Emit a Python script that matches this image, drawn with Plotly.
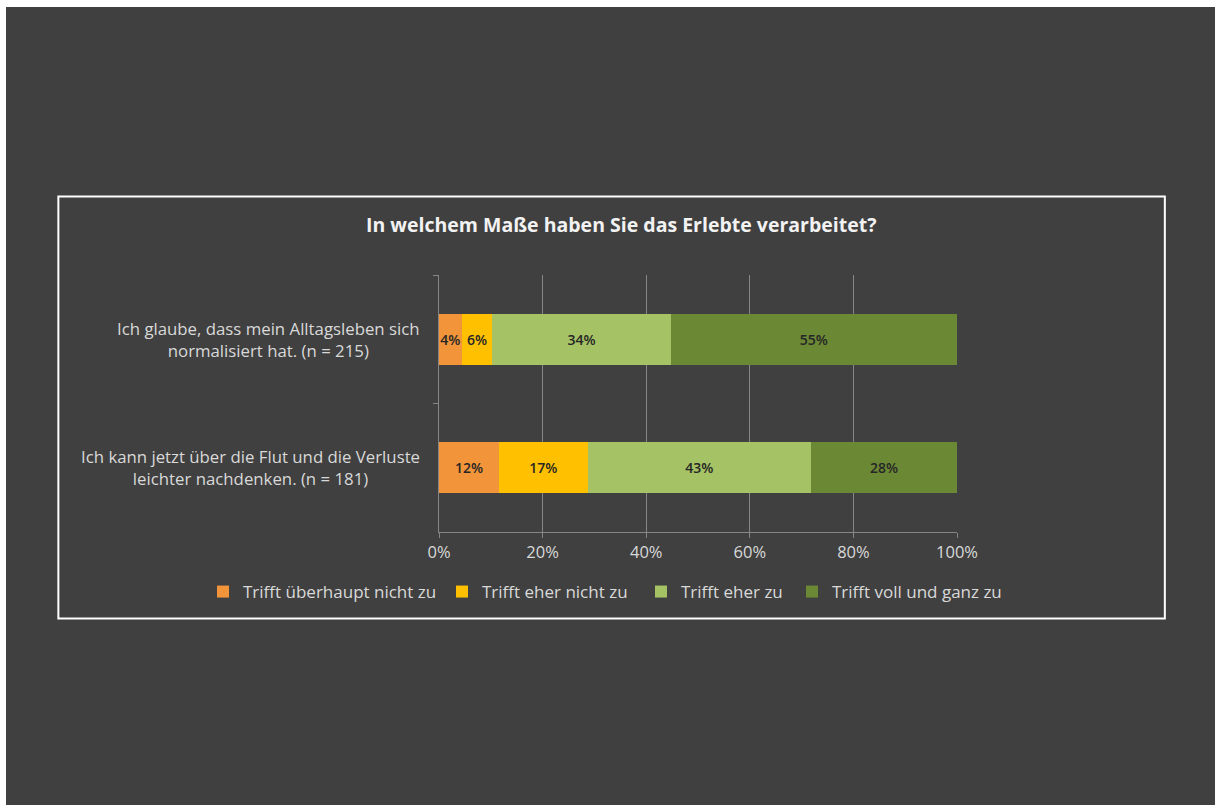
import plotly.graph_objects as go

categories = [
    "Ich glaube, dass mein Alltagsleben sich<br>normalisiert hat. (n = 215)",
    "Ich kann jetzt über die Flut und die Verluste<br>leichter nachdenken. (n = 181)",
]
series_names = [
    "Trifft überhaupt nicht zu",
    "Trifft eher nicht zu",
    "Trifft eher zu",
    "Trifft voll und ganz zu",
]
trifft_ueberhaupt_nicht = [4.4, 11.6]
trifft_eher_nicht = [5.9, 17.1]
trifft_eher = [34.4, 43.1]
trifft_voll = [55.3, 28.2]
label_ueberhaupt_nicht = ["4%", "12%"]
label_eher_nicht = ["6%", "17%"]
label_eher = ["34%", "43%"]
label_voll = ["55%", "28%"]
x_ticks = [0, 20, 40, 60, 80, 100]
x_ticklabels = ["0%", "20%", "40%", "60%", "80%", "100%"]

colors = ["#F2953A", "#FFC000", "#A5C365", "#6B8935"]
series = [trifft_ueberhaupt_nicht, trifft_eher_nicht, trifft_eher, trifft_voll]
labels = [label_ueberhaupt_nicht, label_eher_nicht, label_eher, label_voll]

FONT = "Open Sans"
BG = "#404040"
TXT = "#D9D9D9"

# page offset (white strip on top / left of the page)
OX, OY = 6, 7
W, H = 1215 - OX, 805 - OY

# plot area in page pixels
L, R, T, B = 438.6 - OX, 957.5 - OX, 275.0 - OY, 531.7 - OY
PW, PH = R - L, B - T

def px(xp):
    return (xp - OX - L) / PW

def py(yp):
    return (B - (yp - OY)) / PH

legend_ids = ["legend", "legend2", "legend3", "legend4"]
legend_text_x = [240, 479, 678, 829]  # reference text start (page px)

fig = go.Figure()
for name, vals, lab, col, lid in zip(series_names, series, labels, colors, legend_ids):
    fig.add_trace(go.Bar(
        y=categories, x=vals, name=name, orientation="h", legend=lid,
        marker=dict(color=col, line=dict(width=0)),
        text=lab, textposition="inside", insidetextanchor="middle",
        textangle=0, constraintext="none",
        textfont=dict(family=FONT, size=14, color="#262626", weight=600),
        hoverinfo="skip",
    ))

legends = {}
for lid, tx in zip(legend_ids, legend_text_x):
    legends[lid] = dict(
        orientation="h", xref="container", yref="container",
        x=(tx - 37 - OX) / W, xanchor="left", y=1 - (592 - OY) / H, yanchor="middle",
        font=dict(family=FONT, size=17, color=TXT), bgcolor="rgba(0,0,0,0)",
        itemwidth=30,
    )

fig.update_layout(
    barmode="stack",
    bargap=0.6,
    width=W, height=H,
    margin=dict(l=L, r=W - R, t=T, b=H - B, pad=0),
    paper_bgcolor=BG, plot_bgcolor=BG,
    font=dict(family=FONT, color=TXT, size=15),
    showlegend=True,
    xaxis=dict(
        range=[0, 100], tickvals=x_ticks, ticktext=x_ticklabels,
        showgrid=True, gridcolor="#868686", gridwidth=1,
        showline=True, linecolor="#868686", linewidth=1,
        ticks="outside", ticklen=5, tickcolor="#868686",
        tickfont=dict(family=FONT, size=16.5, color=TXT),
        zeroline=False, fixedrange=True,
    ),
    yaxis=dict(
        autorange="reversed", showticklabels=False,
        showline=True, linecolor="#868686", linewidth=1,
        ticks="outside", ticklen=5, tickcolor="#868686",
        tickson="boundaries", showgrid=False, fixedrange=True,
    ),
    shapes=[
        dict(type="rect", xref="paper", yref="paper",
             x0=px(57.3), x1=px(1165.7), y0=py(618), y1=py(196.7),
             line=dict(color="white", width=2), fillcolor="rgba(0,0,0,0)", layer="above"),
    ],
    annotations=[
        dict(text="In welchem Maße haben Sie das Erlebte verarbeitet?",
             xref="paper", yref="paper", x=px(621), y=py(225),
             xanchor="center", yanchor="middle", showarrow=False,
             font=dict(family=FONT, size=19.5, color="#F2F2F2", weight="bold")),
    ] + [
        dict(text=c, xref="paper", yref="y", x=px(422), y=c,
             xanchor="right", yanchor="middle", align="center", showarrow=False,
             font=dict(family=FONT, size=16.8, color=TXT))
        for c in categories
    ],
    **legends,
)

fig.write_html(
    "out.html",
    config={"displayModeBar": False},
    post_script=(
        "document.documentElement.style.overflow='hidden';"
        "document.documentElement.style.background='white';"
        "document.body.style.background='white';"
        f"document.body.style.margin='{OY}px 0 0 {OX}px';"
    ),
)
